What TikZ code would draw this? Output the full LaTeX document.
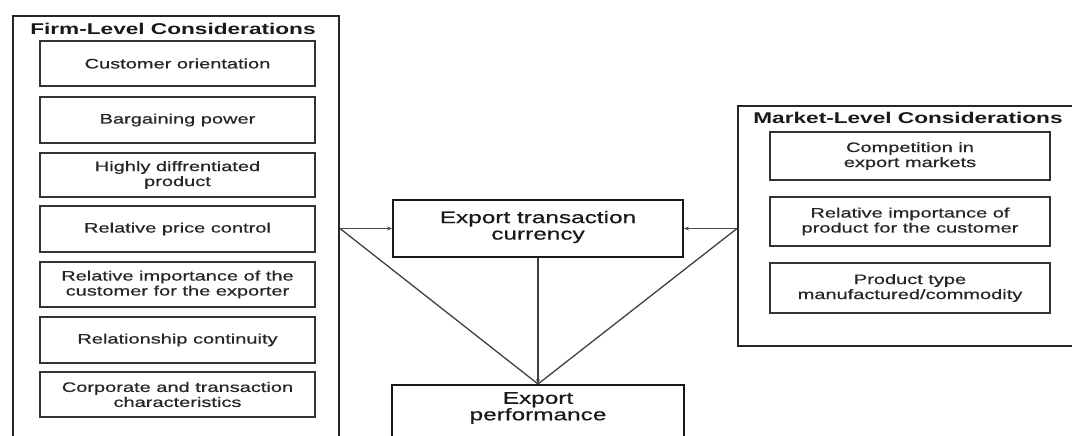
\documentclass[tikz,border=0pt]{standalone}
\usepackage{fontspec}
\usetikzlibrary{arrows.meta}
\newfontfamily\dfont[FakeStretch=1.45,FakeBold=0.6]{Liberation Sans}
\newfontfamily\tfont[FakeStretch=1.45]{Liberation Sans Bold}
\begin{document}
\begin{tikzpicture}[x=1pt,y=-1pt,
  outerbox/.style={draw=black!85, line width=2pt, anchor=north west, inner sep=0pt},
  inbox/.style={draw=black!80, line width=1.3pt, minimum width=#1, align=center, inner sep=0pt,
     font=\dfont\fontsize{13.8}{15}\selectfont, text=black!85},
  inbox/.default=275,
  ttl/.style={font=\tfont\fontsize{15.6}{17}\selectfont, text=black!90, inner sep=0pt},
  mainbox/.style={draw=black!90, line width=2pt, minimum width=290, inner sep=0pt},
  maintext/.style={font=\dfont\fontsize{16.8}{16.5}\selectfont, align=center, text=black!90, inner sep=0pt},
  conn/.style={draw=black!70, line width=1pt},
  diag/.style={draw=black!75, line width=1.3pt},
  tip/.style={-{Stealth[length=5pt,width=4pt]}}
]
\useasboundingbox (0,0) rectangle (1072,436);
\clip (0,0) rectangle (1072,436);

% Firm-level outer box
\node[outerbox, minimum width=326, minimum height=460] (firm) at (12,15) {};
\node[ttl] (firmtitle) at (173,29) {Firm-Level Considerations};

\node[inbox, minimum height=45] (f1) at (177.5,63.5) {Customer orientation};
\node[inbox, minimum height=46] (f2) at (177.5,120) {Bargaining power};
\node[inbox, minimum height=44] (f3) at (177.5,175) {Highly diffrentiated\\product};
\node[inbox, minimum height=46] (f4) at (177.5,229) {Relative price control};
\node[inbox, minimum height=45] (f5) at (177.5,284.5) {Relative importance of the\\customer for the exporter};
\node[inbox, minimum height=46] (f6) at (177.5,340) {Relationship continuity};
\node[inbox, minimum height=45] (f7) at (177.5,394.5) {Corporate and transaction\\characteristics};

% Market-level outer box
\node[outerbox, minimum width=400, minimum height=240] (market) at (737,105) {};
\node[ttl] (markettitle) at (908,118) {Market-Level Considerations};

\node[inbox=280, minimum height=48] (m1) at (910,156) {Competition in\\export markets};
\node[inbox=280, minimum height=49] (m2) at (910,221.5) {Relative importance of\\product for the customer};
\node[inbox=280, minimum height=50] (m3) at (910,288) {Product type\\manufactured/commodity};

% Central boxes
\node[mainbox, minimum height=57] (cur) at (538,228.5) {};
\node[maintext] (curtext) at (538,227) {Export transaction\\currency};
\node[mainbox, minimum width=292, minimum height=100, anchor=north] (perf) at (538,384) {};
\node[maintext, anchor=north] (perftext) at (538,392) {Export\\performance};

% Connectors
\coordinate (lf) at (cur.west -| firm.east);
\coordinate (rm) at (cur.east -| market.west);
\draw[conn, tip] (lf) -- (cur.west);
\draw[conn, tip] (rm) -- (cur.east);
\draw[diag] (lf) -- (perf.north);
\draw[diag] (rm) -- (perf.north);
\draw[diag, tip] (cur.south) -- (perf.north);
\end{tikzpicture}
\end{document}
